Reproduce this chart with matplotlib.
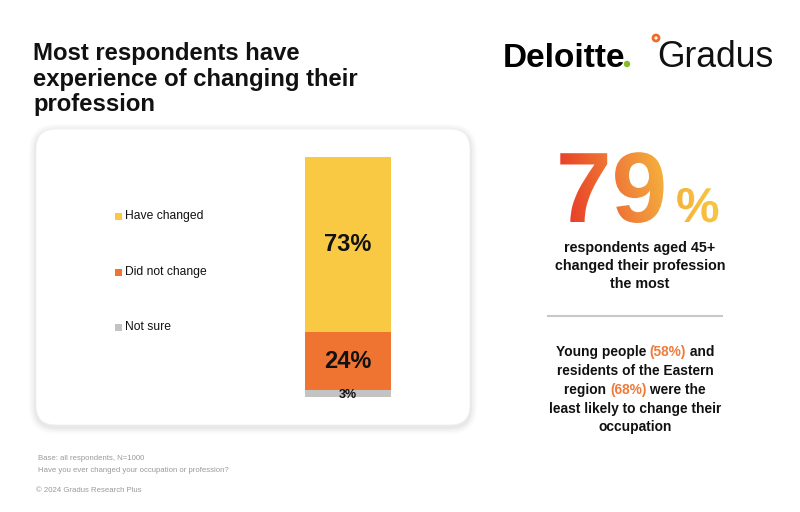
import matplotlib
matplotlib.use("Agg")
import matplotlib.pyplot as plt
import numpy as np
from matplotlib.patches import FancyBboxPatch, PathPatch, Rectangle, Circle
from matplotlib.textpath import TextPath
from matplotlib.font_manager import FontProperties
from matplotlib.transforms import Affine2D
from matplotlib.colors import LinearSegmentedColormap

plt.rcParams['font.family'] = ['Liberation Sans', 'DejaVu Sans']

# ---- data ----
categories = ["Not sure", "Did not change", "Have changed"]   # bottom -> top
values = [3, 24, 73]
colors = ["#C3C3C3", "#EF7331", "#F9C944"]
legend_order = ["Have changed", "Did not change", "Not sure"]
value_labels = ["3%", "24%", "73%"]

title = "Most respondents have\nexperience of changing their\nprofession"
big_value = "79"
big_caption = "respondents aged 45+\nchanged their profession\nthe most"
note_lines = [
    [("Young people ", "k"), ("(58%)", "o"), (" and", "k")],
    [("residents of the Eastern", "k")],
    [("region ", "k"), ("(68%)", "o"), (" were the", "k")],
    [("least likely to change their", "k")],
    [("occupation", "k")],
]
footnotes = ["Base: all respondents, N=1000",
             "Have you ever changed your occupation or profession?"]
copyright_text = "\u00a9 2024 Gradus Research Plus"

W, H = 800, 512
fig = plt.figure(figsize=(8, 5.12), dpi=100)
fig.patch.set_facecolor("white")

bg = fig.add_axes([0, 0, 1, 1])
bg.set_xlim(0, W)
bg.set_ylim(H, 0)
bg.axis("off")

# panel with shadow
px0, py0, px1, py1 = 36, 129, 470, 425
for i, a in enumerate([0.015, 0.02, 0.025, 0.03]):
    g = 7 - i * 1.7
    bg.add_patch(FancyBboxPatch((px0 - g, py0 - g + 2), px1 - px0 + 2 * g, py1 - py0 + 2 * g,
                                boxstyle="round,pad=0,rounding_size=%f" % (20 + g),
                                fc="black", ec="none", alpha=a, zorder=1))
bg.add_patch(FancyBboxPatch((px0, py0), px1 - px0, py1 - py0,
                            boxstyle="round,pad=0,rounding_size=20",
                            fc="white", ec="#F0F0F0", lw=0.6, zorder=2))

# title
bg.text(33, 42, title, fontsize=17.2, fontweight="bold", va="top", ha="left",
        linespacing=1.14, color="#111111", zorder=3)

# logos
bg.text(503, 67, "Deloitte", fontsize=24, fontweight="bold", va="baseline", ha="left",
        color="#000000", zorder=3)
bg.add_patch(Circle((627, 64), 3.2, fc="#86BC25", ec="none", zorder=3))
bg.text(657, 67, "Gradus", fontsize=25.6, va="baseline", ha="left", color="#111111", zorder=3)
bg.add_patch(Circle((656, 38), 3.0, fc="none", ec="#F06A2A", lw=2.0, zorder=3))

# legend
leg_y = [216, 272, 327]
for lab, y in zip(legend_order, leg_y):
    c = colors[categories.index(lab)]
    bg.add_patch(Rectangle((115, y - 3.5), 7, 7, fc=c, ec="none", zorder=3))
    bg.text(125, y, lab, fontsize=8.7, va="center", ha="left", color="#111111", zorder=3)

# stacked bar
bx0, bx1, by0, by1 = 305, 391, 397, 157
ax = fig.add_axes([bx0 / W, 1 - by0 / H, (bx1 - bx0) / W, (by0 - by1) / H])
ax.set_xlim(-0.5, 0.5)
ax.set_ylim(0, 100)
ax.axis("off")
bottom = 0
for v, c, lab in zip(values, colors, value_labels):
    ax.bar(0, v, width=1, bottom=bottom, color=c, edgecolor="none")
    if v < 5:
        ax.text(0, bottom + v / 2 - 0.8, lab, ha="center", va="center", fontsize=9,
                fontweight="bold", color="#111111")
    else:
        ax.text(0, bottom + v / 2, lab, ha="center", va="center", fontsize=17,
                fontweight="bold", color="#111111")
    bottom += v

# big gradient 79%
fpb = FontProperties(family="Liberation Sans", weight="bold")
def grad_text(s, x, y, size):
    tp = TextPath((0, 0), s, size=size, prop=fpb)
    tr = Affine2D().scale(1, -1).translate(x, y)
    return tr.transform_path(tp)

cmap = LinearSegmentedColormap.from_list("g", ["#E5302A", "#EC5A2C", "#F0873A", "#F5B23C", "#F7C443"])
grad = np.linspace(0, 1, 256)[None, :] * np.ones((64, 1))
grad = grad + np.linspace(0, 0.12, 64)[:, None]
grad = np.clip(grad, 0, 1)
for s, x, y, size in [(big_value, 556, 222, 100), ("%", 676, 222, 49)]:
    path = grad_text(s, x, y, size)
    patch = PathPatch(path, fc="none", ec="none", transform=bg.transData)
    bg.add_patch(patch)
    im = bg.imshow(grad, cmap=cmap, vmin=0, vmax=1, extent=(556, 720, 140, 228),
                   aspect="auto", interpolation="bilinear", zorder=3)
    im.set_clip_path(patch)
bg.set_xlim(0, W)
bg.set_ylim(H, 0)

bg.text(640, 266, big_caption, fontsize=10.3, fontweight="bold", ha="center", va="center",
        linespacing=1.4, color="#111111", zorder=3)

bg.plot([548, 722], [316, 316], color="#C8C8C8", lw=1.5, zorder=3)

# multi-colour note
fig.canvas.draw()
renderer = fig.canvas.get_renderer()
note_y = [352, 371, 390, 409, 427]
cmapc = {"k": "#111111", "o": "#F07A3A"}
for parts, y in zip(note_lines, note_y):
    texts = []
    for s, c in parts:
        t = bg.text(0, y, s, fontsize=9.9, fontweight="bold", ha="left", va="center",
                    color=cmapc[c], zorder=3)
        texts.append(t)
    widths = [t.get_window_extent(renderer).width for t in texts]
    total = sum(widths)
    x = 635 - total / 2
    for t, w in zip(texts, widths):
        t.set_x(x)
        x += w

# footnotes
bg.text(38, 459, footnotes[0], fontsize=5.6, color="#9A9A9A", va="center", ha="left")
bg.text(38, 470, footnotes[1], fontsize=5.6, color="#9A9A9A", va="center", ha="left")
bg.text(36, 491, copyright_text, fontsize=5.6, color="#9A9A9A", va="center", ha="left")

fig.savefig("out.png", dpi=100, facecolor="white")
